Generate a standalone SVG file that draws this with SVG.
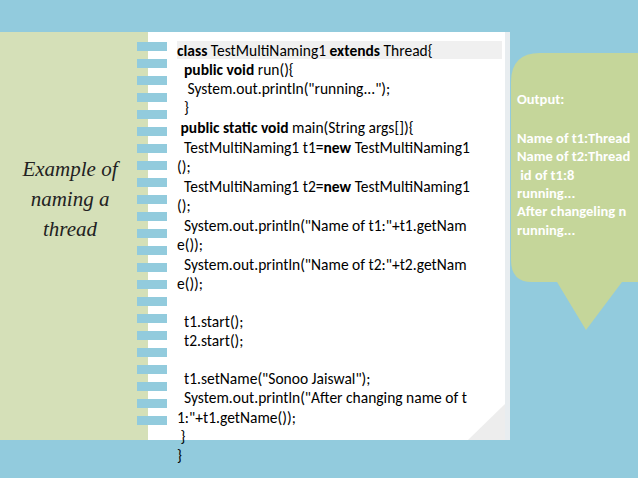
<svg xmlns="http://www.w3.org/2000/svg" width="638" height="478" viewBox="0 0 638 478">
<style>
.c{font-family:Calibri,Carlito,"Liberation Sans",sans-serif;font-size:15.5px;fill:#000}
.b{font-weight:bold}
.o{font-family:Calibri,Carlito,"Liberation Sans",sans-serif;font-size:14.5px;font-weight:bold;fill:#fff}
.tab{fill:#92CBDD}
</style>
<rect width="638" height="478" fill="#92CBDD"/>
<g id="left-panel">
<rect x="0" y="32" width="148" height="408" fill="#D5E0B8"/>
<text font-family="'Liberation Serif',serif" font-style="italic" font-size="21" fill="#222" text-anchor="middle"><tspan x="70" y="176">Example of</tspan><tspan x="70" y="206">naming a</tspan><tspan x="70" y="236">thread</tspan></text>
</g>
<g id="page">
<rect x="148" y="32" width="362" height="408" fill="#E8EDF0"/>
<rect x="148" y="32" width="357" height="408" fill="#fff"/>
<rect x="177" y="41" width="325" height="18" fill="#F0F0F0"/>
<polygon points="468,440 505,404 505,440" fill="#EDEDED"/>
<g id="tabs">
<rect class="tab" x="137" y="42" width="30" height="9"/><rect class="tab" x="137" y="59" width="30" height="9"/><rect class="tab" x="137" y="76" width="30" height="9"/><rect class="tab" x="137" y="93" width="30" height="9"/><rect class="tab" x="137" y="110" width="30" height="9"/><rect class="tab" x="137" y="127" width="30" height="9"/><rect class="tab" x="137" y="144" width="30" height="9"/><rect class="tab" x="137" y="161" width="30" height="9"/><rect class="tab" x="137" y="178" width="30" height="9"/><rect class="tab" x="137" y="195" width="30" height="9"/><rect class="tab" x="137" y="212" width="30" height="9"/><rect class="tab" x="137" y="229" width="30" height="9"/><rect class="tab" x="137" y="246" width="30" height="9"/><rect class="tab" x="137" y="263" width="30" height="9"/><rect class="tab" x="137" y="280" width="30" height="9"/><rect class="tab" x="137" y="297" width="30" height="9"/><rect class="tab" x="137" y="314" width="30" height="9"/><rect class="tab" x="137" y="331" width="30" height="9"/><rect class="tab" x="137" y="348" width="30" height="9"/><rect class="tab" x="137" y="365" width="30" height="9"/><rect class="tab" x="137" y="382" width="30" height="9"/><rect class="tab" x="137" y="399" width="30" height="9"/><rect class="tab" x="137" y="416" width="30" height="9"/>
</g>
<text class="c" xml:space="preserve"><tspan x="177" y="56"><tspan class="b">class</tspan> TestMultiNaming1 <tspan class="b">extends</tspan> Thread{</tspan><tspan x="177" y="75">  <tspan class="b">public void</tspan> run(){</tspan><tspan x="177" y="94">   System.out.println("running...");</tspan><tspan x="177" y="113">  }</tspan><tspan x="177" y="133"> <tspan class="b">public static void</tspan> main(String args[]){</tspan><tspan x="177" y="153">  TestMultiNaming1 t1=<tspan class="b">new</tspan> TestMultiNaming1</tspan><tspan x="177" y="172">();</tspan><tspan x="177" y="192">  TestMultiNaming1 t2=<tspan class="b">new</tspan> TestMultiNaming1</tspan><tspan x="177" y="211">();</tspan><tspan x="177" y="231">  System.out.println("Name of t1:"+t1.getNam</tspan><tspan x="177" y="250">e());</tspan><tspan x="177" y="270">  System.out.println("Name of t2:"+t2.getNam</tspan><tspan x="177" y="289">e());</tspan><tspan x="177" y="327">  t1.start();</tspan><tspan x="177" y="346">  t2.start();</tspan><tspan x="177" y="384">  t1.setName("Sonoo Jaiswal");</tspan><tspan x="177" y="403">  System.out.println("After changing name of t</tspan><tspan x="177" y="423">1:"+t1.getName());</tspan><tspan x="177" y="442"> }</tspan><tspan x="177" y="461">}</tspan></text>
</g>
<g id="output-callout">
<path d="M540,53 H638 V282 H622 L586,330 L557,282 H532 Q511,282 511,260 V82 Q511,53 540,53 Z" fill="#C5D69A"/>
<text class="o" xml:space="preserve"><tspan x="517" y="104">Output:</tspan><tspan x="517" y="143">Name of t1:Thread</tspan><tspan x="517" y="161">Name of t2:Thread</tspan><tspan x="517" y="180"> id of t1:8</tspan><tspan x="517" y="198">running...</tspan><tspan x="517" y="216">After changeling n</tspan><tspan x="517" y="235">running...</tspan></text>
</g>
</svg>
